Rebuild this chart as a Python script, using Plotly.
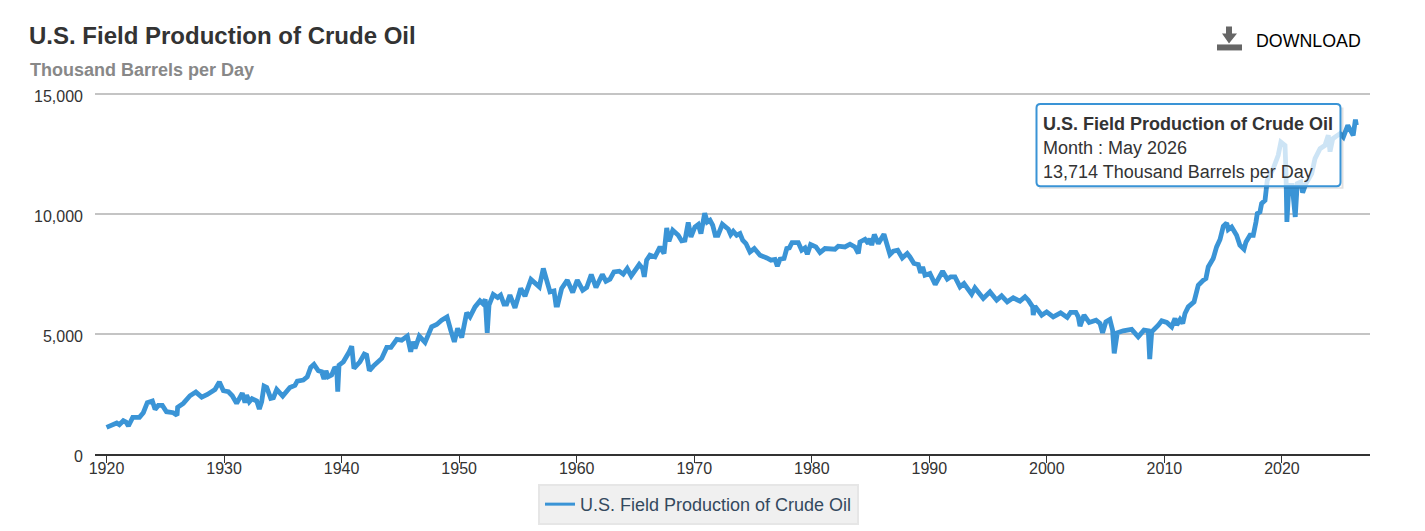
import plotly.graph_objects as go

SERIES_NAME = "U.S. Field Production of Crude Oil"
UNITS = "Thousand Barrels per Day"

# values, year as decimal
years_1920s = [1920.0, 1920.44, 1920.87, 1921.09, 1921.43, 1921.66, 1921.86, 1922.23, 1922.8, 1923.13,
               1923.47, 1923.9, 1924.13, 1924.41, 1924.75, 1925.1, 1925.68, 1926.0, 1926.05, 1926.53,
               1927.1, 1927.6, 1928.1, 1928.58, 1929.23, 1929.6, 1929.94]
prod_1920s = [1112, 1222, 1292, 1222, 1389, 1333, 1167, 1528, 1528, 1722,
              2139, 2208, 1862, 2028, 2028, 1764, 1722, 1611, 1944, 2111,
              2430, 2583, 2375, 2486, 2694, 3000, 2639]

years_1930s = [1930.37, 1930.7, 1931.07, 1931.55, 1931.78, 1931.92, 1932.15, 1932.38, 1932.78, 1933.0,
               1933.2, 1933.4, 1933.63, 1933.97, 1934.2, 1934.48, 1934.99, 1935.6, 1936.03, 1936.23,
               1936.74, 1937.08, 1937.37, 1937.65, 1938.02, 1938.3, 1938.5, 1938.67, 1938.87, 1939.15,
               1939.38, 1939.58, 1939.67, 1939.78]
prod_1930s = [2597, 2430, 2111, 2542, 2139, 2458, 2181, 2305, 2208, 1875,
              2181, 2833, 2778, 2319, 2347, 2694, 2417, 2778, 2861, 3042,
              3083, 3222, 3611, 3736, 3472, 3430, 3125, 3472, 3222, 3292,
              3570, 3596, 2597, 3708]

years_1940s = [1940.15, 1940.43, 1940.65, 1940.86, 1941.05, 1941.56, 1941.93, 1942.13, 1942.36, 1942.7,
               1943.07, 1943.41, 1943.84, 1944.2, 1944.69, 1945.11, 1945.59, 1945.88, 1946.05, 1946.25,
               1946.61, 1947.1, 1947.66, 1948.09, 1948.51, 1948.97, 1949.28, 1949.59, 1949.87]
prod_1940s = [3846, 4054, 4263, 4500, 3571, 3846, 4167, 4125, 3479, 3667,
              3804, 3988, 4446, 4446, 4779, 4750, 4917, 4263, 4679, 4404,
              4917, 4654, 5304, 5404, 5583, 5721, 5167, 4679, 5238]

years_1950s = [1950.22, 1950.64, 1950.92, 1951.35, 1951.77, 1952.0, 1952.22, 1952.39, 1952.54, 1952.9,
               1953.28, 1953.53, 1953.81, 1954.04, 1954.32, 1954.75, 1955.24, 1955.6, 1956.11, 1956.82,
               1957.16, 1957.73, 1958.07, 1958.24, 1958.38, 1958.72, 1959.2, 1959.66]
prod_1950s = [4863, 5888, 5721, 6138, 6388, 6279, 6446, 5054, 6208, 6654,
              6529, 6625, 6250, 6250, 6625, 6096, 6904, 6583, 7279, 6971,
              7738, 6763, 6804, 6208, 6208, 6904, 7250, 6738]

years_1960s = [1960.05, 1960.51, 1960.85, 1961.24, 1961.64, 1962.18, 1962.49, 1962.83, 1963.17, 1963.62,
               1963.96, 1964.3, 1964.64, 1965.32, 1965.61, 1965.75, 1965.95, 1966.23, 1966.66, 1967.09,
               1967.43, 1967.66, 1967.85, 1968.17, 1968.64, 1968.93, 1969.21, 1969.49, 1969.72]
prod_1960s = [7250, 6833, 6946, 7488, 6946, 7488, 7208, 7292, 7596, 7625,
              7500, 7738, 7429, 7904, 7738, 7388, 8083, 8292, 8221, 8638,
              8363, 9429, 8875, 9333, 9125, 8888, 8917, 9654, 9054]

years_1970s = [1970.06, 1970.34, 1970.57, 1970.89, 1971.11, 1971.34, 1971.57, 1971.79, 1972.02, 1972.39,
               1972.9, 1973.1, 1973.32, 1973.61, 1973.89, 1974.12, 1974.4, 1974.74, 1975.11, 1975.6,
               1976.17, 1976.53, 1976.87, 1977.07, 1977.3, 1977.64, 1977.87, 1978.09, 1978.32, 1978.85,
               1979.14, 1979.42, 1979.62, 1979.9]
prod_1970s = [9471, 9571, 9196, 10042, 9679, 9750, 9542, 9125, 9125, 9583,
              9375, 9154, 9292, 9125, 9196, 8917, 8779, 8429, 8571, 8292,
              8179, 8083, 8113, 7833, 8125, 8154, 8571, 8596, 8821, 8821,
              8500, 8596, 8333, 8738]

years_1980s = [1980.35, 1980.7, 1981.12, 1981.49, 1981.97, 1982.25, 1982.82, 1983.25, 1983.67, 1983.96,
               1984.1, 1984.53, 1984.81, 1984.95, 1985.1, 1985.32, 1985.66, 1986.14, 1986.42, 1986.65,
               1986.93, 1987.31, 1987.7, 1988.12, 1988.35, 1988.69, 1989.06, 1989.26, 1989.43, 1989.63]
prod_1980s = [8638, 8404, 8571, 8571, 8542, 8667, 8638, 8750, 8638, 8363,
              8846, 8958, 8779, 8988, 8708, 9154, 8779, 9167, 8708, 8321,
              8458, 8500, 8179, 8363, 8221, 7946, 7904, 7554, 7804, 7458]

years_1990s = [1990.05, 1990.5, 1991.13, 1991.53, 1991.82, 1992.18, 1992.61, 1992.95, 1993.6, 1993.88,
               1994.59, 1995.16, 1995.73, 1996.15, 1996.63, 1997.14, 1997.71, 1998.14, 1998.42, 1998.79,
               1998.84, 1998.98, 1999.56]
prod_1990s = [7529, 7071, 7625, 7292, 7388, 7388, 6971, 7113, 6667, 6929,
              6488, 6763, 6417, 6596, 6346, 6513, 6375, 6554, 6417, 6138,
              5792, 6167, 5792]

years_2000s = [1999.98, 2000.54, 2001.17, 2001.73, 2002.02, 2002.47, 2002.67, 2002.82, 2003.16, 2003.6,
               2004.18, 2004.52, 2004.74, 2005.02, 2005.36, 2005.59, 2005.73, 2005.99, 2006.5, 2007.21,
               2007.77, 2008.26, 2008.63, 2008.75, 2008.92, 2009.48, 2009.77]
prod_2000s = [5929, 5721, 5888, 5696, 5904, 5904, 5721, 5333, 5792, 5488,
              5583, 5446, 5054, 5513, 5613, 5167, 4196, 5054, 5138, 5196,
              4888, 5167, 5138, 3958, 5096, 5375, 5554]

years_2010s = [2010.2, 2010.62, 2010.9, 2011.05, 2011.33, 2011.56, 2011.75, 2012.03, 2012.52, 2012.88,
               2013.31, 2013.53, 2013.73, 2014.15, 2014.44, 2014.73, 2015.01, 2015.3, 2015.43, 2015.72,
               2016.14, 2016.42, 2016.77, 2016.94, 2017.28, 2017.56, 2017.79, 2017.9, 2018.13, 2018.27,
               2018.56, 2018.75, 2019.26, 2019.68, 2019.91]
prod_2010s = [5488, 5304, 5654, 5375, 5613, 5446, 5863, 6138, 6346, 7042,
              7250, 7321, 7804, 8154, 8638, 8946, 9500, 9638, 9363, 9471,
              9125, 8708, 8542, 8846, 9125, 9125, 9679, 10029, 10096, 10446,
              10583, 11417, 11904, 12458, 13013]

years_2020s = [2020.26, 2020.34, 2020.42, 2020.59, 2020.87, 2021.13, 2021.3, 2021.6, 2021.76, 2022.04,
               2022.53, 2022.81, 2023.24, 2023.66, 2023.94, 2024.09, 2024.32, 2024.94, 2025.22, 2025.6,
               2026.06, 2026.25, 2026.33]
prod_2020s = [12875, 11763, 9679, 11208, 11208, 9888, 11279, 11346, 10904, 11279,
              11696, 12321, 12738, 12875, 13292, 12613, 13154, 13363, 13221, 13708,
              13292, 13946, 13714]

years = (years_1920s + years_1930s + years_1940s + years_1950s + years_1960s
         + years_1970s + years_1980s + years_1990s + years_2000s + years_2010s + years_2020s)
prod = (prod_1920s + prod_1930s + prod_1940s + prod_1950s + prod_1960s
        + prod_1970s + prod_1980s + prod_1990s + prod_2000s + prod_2010s + prod_2020s)

x_ticks = [1920, 1930, 1940, 1950, 1960, 1970, 1980, 1990, 2000, 2010, 2020]
y_ticks = [0, 5000, 10000, 15000]

# plot area in page pixels; the top sits a little above the 15,000 line
# because plotly drops gridlines within a pixel of the range end
LEFT, RIGHT, TOP, BOTTOM = 95, 1370, 91.6, 454
WIDTH, HEIGHT = 1425, 531


def px(x):
    return (x - LEFT) / (RIGHT - LEFT)


def py(y):
    return (BOTTOM - y) / (BOTTOM - TOP)


def path(points, close=True):
    d = "M " + " L ".join(f"{px(a):.5f},{py(b):.5f}" for a, b in points)
    return d + (" Z" if close else "")


def rounded_box(x0, y0, x1, y1, r):
    return (f"M {px(x0 + r):.5f},{py(y0):.5f} L {px(x1 - r):.5f},{py(y0):.5f} "
            f"Q {px(x1):.5f},{py(y0):.5f} {px(x1):.5f},{py(y0 + r):.5f} "
            f"L {px(x1):.5f},{py(y1 - r):.5f} Q {px(x1):.5f},{py(y1):.5f} {px(x1 - r):.5f},{py(y1):.5f} "
            f"L {px(x0 + r):.5f},{py(y1):.5f} Q {px(x0):.5f},{py(y1):.5f} {px(x0):.5f},{py(y1 - r):.5f} "
            f"L {px(x0):.5f},{py(y0 + r):.5f} Q {px(x0):.5f},{py(y0):.5f} {px(x0 + r):.5f},{py(y0):.5f} Z")


def label(text, x, y, size, color, bold=False):
    # annotations carry 2px of padding, so pull them back by that much
    return dict(text=f"<b>{text}</b>" if bold else text, x=px(x - 2), y=py(y), xref="paper", yref="paper",
                xanchor="left", yanchor="middle", showarrow=False, align="left",
                font=dict(size=size, color=color))


LINE_COLOR = "#3a94d6"
FONT = "Liberation Sans, Arial, sans-serif"

fig = go.Figure()
fig.add_trace(go.Scatter(x=years, y=prod, mode="lines", showlegend=False,
                         line=dict(color=LINE_COLOR, width=4.8), hoverinfo="skip"))
# legend sample is thinner than the line itself
fig.add_trace(go.Scatter(x=[None], y=[None], mode="lines", name=SERIES_NAME,
                         line=dict(color=LINE_COLOR, width=3)))

shapes = [
    # download icon
    dict(type="path", path=path([(1217, 44), (1242, 44), (1242, 50), (1217, 50)]),
         xref="paper", yref="paper", fillcolor="#666666", line_width=0),
    dict(type="path", path=path([(1226, 26), (1232, 26), (1232, 33), (1237, 33), (1229, 43), (1222, 33), (1226, 33)]),
         xref="paper", yref="paper", fillcolor="#666666", line_width=0),
    # tooltip shadow and box
    dict(type="path", path=path([(1341.5, 107), (1343.5, 107), (1343.5, 188.5), (1039, 188.5), (1039, 187), (1341.5, 187)]),
         xref="paper", yref="paper", fillcolor="rgba(0,0,0,0.12)", line_width=0),
    dict(type="path", path=rounded_box(1036.5, 103.5, 1340.5, 186, 4),
         xref="paper", yref="paper", fillcolor="rgba(255,255,255,0.75)",
         line=dict(color=LINE_COLOR, width=2)),
]

annotations = [
    label(SERIES_NAME, 29, 35, 24, "#333333", bold=True),
    label(UNITS, 30, 70, 18, "#888888", bold=True),
    label("DOWNLOAD", 1256, 41, 17.8, "#000000"),
    label(SERIES_NAME, 1043, 124, 18, "#333333", bold=True),
    label("Month : May 2026", 1043, 148, 18, "#333333"),
    label("13,714 " + UNITS, 1043, 172, 18, "#333333"),
]

fig.update_layout(
    width=WIDTH, height=HEIGHT,
    margin=dict(l=LEFT, r=WIDTH - RIGHT, t=TOP, b=HEIGHT - BOTTOM, autoexpand=False),
    paper_bgcolor="white", plot_bgcolor="white",
    font=dict(family=FONT, size=16, color="#333333"),
    showlegend=True,
    legend=dict(x=px(698.5), y=py(504.5), xanchor="center", yanchor="middle",
                bgcolor="#f0f0f0", bordercolor="#e6e6e6", borderwidth=2,
                font=dict(size=18, color="#34495e")),
    shapes=shapes,
    annotations=annotations,
)
fig.update_xaxes(range=[1919.02, 2027.49], tickvals=x_ticks, tickformat="d", showgrid=False,
                 showline=True, linecolor="#333333", linewidth=2, ticks="outside", ticklen=7,
                 tickcolor="#333333", zeroline=False, ticklabelstandoff=-8)
fig.update_yaxes(range=[0, 15100], tickvals=y_ticks, tickformat=",d", showgrid=True,
                 gridcolor="#c4c4c4", gridwidth=2, showline=False, zeroline=False,
                 ticklabelstandoff=11, ticklabelshift=2)

fig.write_html("out.html", config=dict(displayModeBar=False),
               post_script="document.body.style.margin='0';")
